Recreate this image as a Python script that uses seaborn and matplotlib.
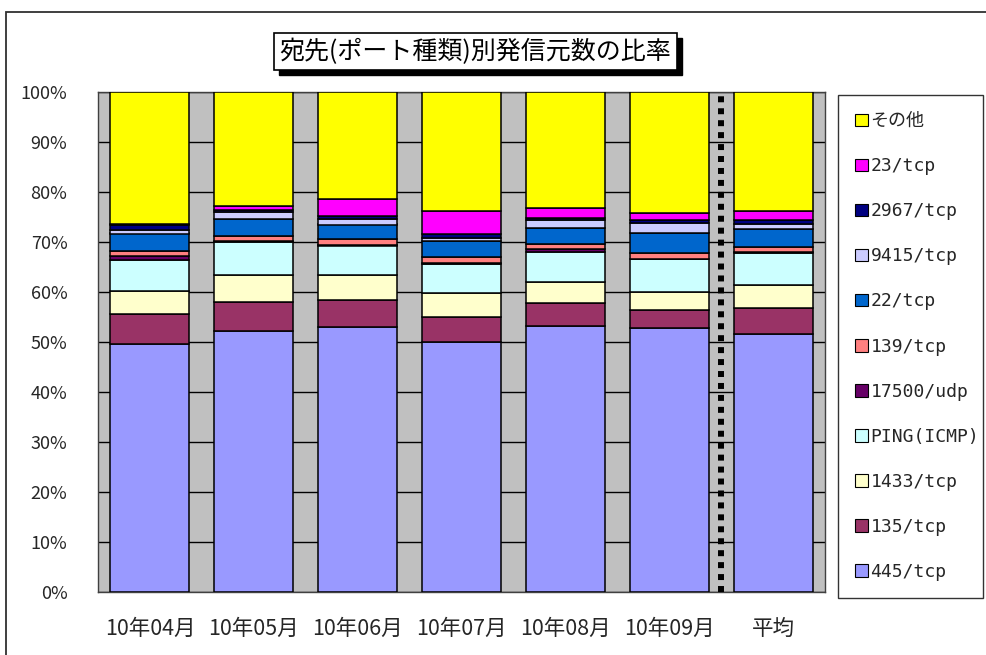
import numpy as np
import pandas as pd
import matplotlib
matplotlib.use("Agg")
import matplotlib.pyplot as plt
import seaborn as sns
from matplotlib.patches import Patch, Rectangle

months = ["10年04月", "10年05月", "10年06月", "10年07月", "10年08月", "10年09月", "平均"]

# percent share per destination port (bottom -> top)
tcp445 = [49.7, 52.2, 53.0, 50.1, 53.2, 52.9, 51.6]
tcp135 = [6.0, 5.9, 5.5, 4.9, 4.6, 3.6, 5.3]
tcp1433 = [4.5, 5.3, 4.9, 4.8, 4.3, 3.6, 4.5]
ping = [6.3, 6.7, 5.9, 5.9, 6.0, 6.5, 6.4]
udp17500 = [0.7, 0.1, 0.1, 0.1, 0.5, 0.1, 0.2]
tcp139 = [0.9, 1.1, 1.2, 1.2, 1.1, 1.2, 1.0]
tcp22 = [3.6, 3.3, 2.9, 3.2, 3.2, 4.0, 3.6]
tcp9415 = [0.8, 1.5, 1.1, 0.7, 1.5, 1.9, 1.1]
tcp2967 = [0.9, 0.4, 0.6, 0.7, 0.5, 0.6, 0.7]
tcp23 = [0.2, 0.8, 3.4, 4.6, 1.9, 1.4, 1.8]
others = [26.4, 22.7, 21.4, 23.8, 23.2, 24.2, 23.8]

series_names = ["445/tcp", "135/tcp", "1433/tcp", "PING(ICMP)", "17500/udp", "139/tcp",
                "22/tcp", "9415/tcp", "2967/tcp", "23/tcp", "その他"]
series_vals = [tcp445, tcp135, tcp1433, ping, udp17500, tcp139,
               tcp22, tcp9415, tcp2967, tcp23, others]
series_colors = ["#9999FF", "#993366", "#FFFFCC", "#CCFFFF", "#660066", "#FF8080",
                 "#0066CC", "#CCCCFF", "#000080", "#FF00FF", "#FFFF00"]

sns.set_style("white")
plt.rcParams['font.family'] = ['Noto Sans CJK JP', 'DejaVu Sans']

fig = plt.figure(figsize=(9.86, 6.55), dpi=100)
ax = fig.add_axes([98 / 986, 1 - 592 / 655, 727 / 986, 500 / 655])
ax.set_facecolor("#C0C0C0")

# outer chart frame
fig.patches.append(Rectangle((6 / 986, -0.1), 1.2, 1.1 - 12 / 655,
                             transform=fig.transFigure, fill=False,
                             edgecolor="#303030", linewidth=1.3))

bottom = np.zeros(len(months))
for name, vals, col in zip(series_names, series_vals, series_colors):
    sns.barplot(x=months, y=vals, bottom=bottom, color=col, saturation=1, width=0.76,
                edgecolor="black", linewidth=1.1, errorbar=None, ax=ax, zorder=3)
    bottom = bottom + np.array(vals)

ax.set_xlim(-0.5, len(months) - 0.5)
ax.set_ylim(0, 100)
ax.set_yticks(np.arange(0, 101, 10))
ax.set_yticklabels([f"{v}%" for v in range(0, 101, 10)])
ax.yaxis.grid(True, color="black", linewidth=1.0, zorder=0)
ax.set_axisbelow(True)
ax.tick_params(axis="y", length=0, pad=22, labelsize=13)
ax.tick_params(axis="x", length=0, pad=19, labelsize=15.5)
ax.set_xlabel("")
ax.set_ylabel("")
for s in ax.spines.values():
    s.set_color("#404040")
    s.set_linewidth(1.0)

# separator before the average bar
ax.axvline(len(months) - 1.5, color="black", linewidth=4.3, linestyle=(0, (1, 1)),
           zorder=4, dash_capstyle="butt")

# title box with drop shadow
title = "宛先(ポート種類)別発信元数の比率"
t = fig.text(0.482, 0.921, title, ha="center", va="center", fontsize=18, color="black",
             zorder=5,
             bbox=dict(boxstyle="square,pad=0.22", fc="white", ec="black", lw=1.2))
fig.canvas.draw()
bb = t.get_bbox_patch().get_window_extent().transformed(fig.transFigure.inverted())
fig.patches.append(Rectangle((bb.x0 + 5 / 986, bb.y0 - 5 / 655), bb.width, bb.height,
                             transform=fig.transFigure, facecolor="black",
                             edgecolor="black", zorder=1))

handles = [Patch(facecolor=c, edgecolor="black", linewidth=0.8)
           for c in series_colors[::-1]]
leg = fig.legend(handles, series_names[::-1], loc="upper left",
                 bbox_to_anchor=(838 / 986, 1 - 95 / 655, 145 / 986, 0.0),
                 mode="expand", frameon=True, fancybox=False, borderaxespad=0,
                 handlelength=0.7, handleheight=0.7, handletextpad=0.15,
                 labelspacing=1.5, borderpad=0.95,
                 prop={"family": ["DejaVu Sans Mono", "Noto Sans CJK JP"], "size": 13})
leg.get_frame().set_edgecolor("black")
leg.get_frame().set_linewidth(1.0)

fig.savefig("out.png", dpi=100)
